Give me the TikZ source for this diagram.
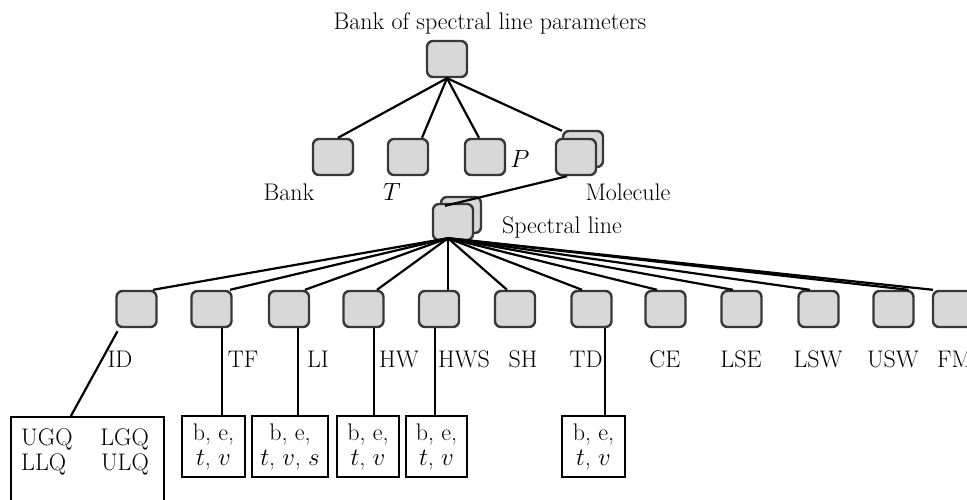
\documentclass[tikz,border=0pt]{standalone}
\usetikzlibrary{calc}
\definecolor{boxfill}{HTML}{D8D8D8}
\definecolor{boxedge}{HTML}{383838}
\tikzset{
  gbox/.style={draw=boxedge, fill=boxfill, line width=2.4pt, rounded corners=6pt,
    minimum width=40pt, minimum height=36pt, inner sep=0pt},
  tbox/.style={draw=black, fill=white, line width=1.8pt, inner sep=0pt, align=center},
  conn/.style={draw=black, line width=2.2pt},
  thin/.style={draw=black, line width=1.6pt},
  lab/.style={anchor=base, inner sep=0pt},
}
\begin{document}
\begin{tikzpicture}[x=1pt, y=-1pt, font=\fontsize{24}{25}\selectfont]
\useasboundingbox (0,0) rectangle (967,499);
\clip (0,0) rectangle (967,499);
% title
\node[lab] (title) at (490,29) {Bank of spectral line parameters};
% level 1
\node[gbox] (top) at (447,59) {};
% level 2
\node[gbox] (bank) at (333,157) {};
\node[gbox] (tt) at (408,157) {};
\node[gbox] (pp) at (485,157) {};
\node[gbox] (molb) at (583,149) {};
\node[gbox] (mol) at (576,157) {};
\node[lab] (lbank) at (289,200) {Bank};
\node[lab] (lt) at (392,200) {$T$};
\node[lab] (lp) at (520,167) {$P$};
\node[lab] (lmol) at (628,200) {Molecule};
% spectral line
\node[gbox] (slb) at (461,215) {};
\node[gbox] (sl) at (453,222) {};
\node[lab] (lsl) at (562,233) {Spectral line};
% connectors level 1 -> 2
\draw[conn] (top.south) -- ([xshift=5pt]bank.north);
\draw[conn] (top.south) -- ([xshift=14pt]tt.north);
\draw[conn] (top.south) -- ([xshift=-6pt]pp.north);
\draw[conn] (top.south) -- ([xshift=-21pt,yshift=-1pt]molb.north);
\draw[conn] ([xshift=-9pt]mol.south) -- ([xshift=-8pt,yshift=-3pt]sl.north);
% level 3
\foreach \n/\x in {id/136.5, tf/211.5, li/289, hw/363.5, hws/439, sh/515, td/591.5,
                   ce/665.5, lse/741.5, lsw/818.5, usw/893.5, fm/953}{
  \node[gbox] (\n) at (\x,309) {};
}
\foreach \n/\s in {id/16.5, tf/18.5, li/16, hw/13.5, hws/9, sh/-8, td/-9.5,
                   ce/-8.5, lse/-8.5, lsw/-8.5, usw/15, fm/-20}{
  \draw[conn] ([xshift=-5pt,yshift=3pt]sl.south) -- ([xshift=\s pt]\n.north);
}
% level 3 labels
\foreach \t/\x in {ID/120, TF/243, LI/318, HW/399, HWS/464, SH/523, TD/586,
                   CE/665, LSE/741, LSW/818, USW/893}{
  \node[lab] at (\x,367) {\t};
}
\node[anchor=base west, inner sep=0pt] (lfm) at (937,367) {FM};
% bottom boxes
\node[tbox, anchor=north west, minimum width=153pt, minimum height=110pt] (idb) at (10,416) {};
\node[anchor=base west, inner sep=0pt] at (21,445) {UGQ};
\node[anchor=base east, inner sep=0pt] at (149,445) {LGQ};
\node[anchor=base west, inner sep=0pt] at (21,470) {LLQ};
\node[anchor=base east, inner sep=0pt] at (149,470) {ULQ};
\node[tbox, minimum width=63pt, minimum height=61pt] (tfb) at (213.5,446.5) {b, e,\\ $t$, $v$};
\node[tbox, minimum width=76pt, minimum height=61pt] (lib) at (290,446.5) {b, e,\\ $t$, $v$, $s$};
\node[tbox, minimum width=62pt, minimum height=61pt] (hwb) at (368,446.5) {b, e,\\ $t$, $v$};
\node[tbox, minimum width=61pt, minimum height=61pt] (hwsb) at (436.5,446.5) {b, e,\\ $t$, $v$};
\node[tbox, minimum width=63pt, minimum height=61pt] (tdb) at (593.5,446.5) {b, e,\\ $t$, $v$};
% level 3 -> bottom
\draw[conn] ([xshift=-19pt,yshift=-3pt]id.south) -- ([xshift=-16.5pt]idb.north);
\draw[thin] ([xshift=10.5pt]tf.south) coordinate (a1) -- (a1 |- tfb.north);
\draw[thin] ([xshift=9pt]li.south) coordinate (a2) -- (a2 |- lib.north);
\draw[thin] ([xshift=10.5pt]hw.south) coordinate (a3) -- (a3 |- hwb.north);
\draw[thin] ([xshift=-4pt]hws.south) coordinate (a4) -- (a4 |- hwsb.north);
\draw[thin] ([xshift=13.5pt]td.south) coordinate (a5) -- (a5 |- tdb.north);
\end{tikzpicture}
\end{document}
